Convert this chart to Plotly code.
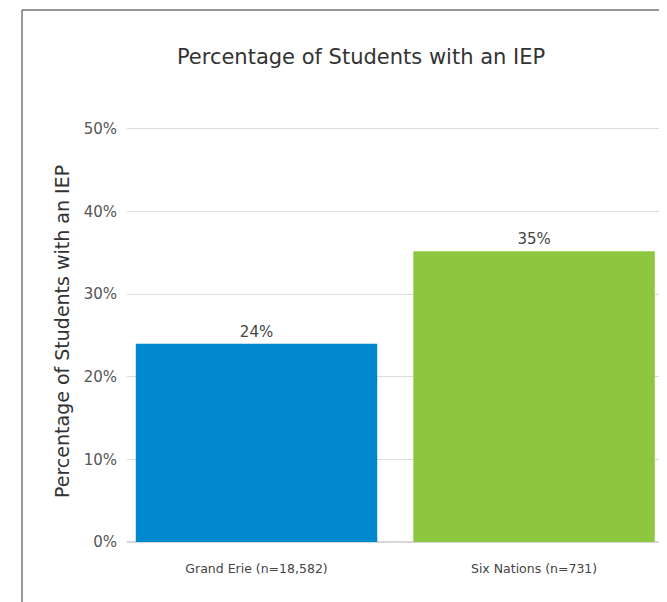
import plotly.graph_objects as go

categories = ["Grand Erie (n=18,582)", "Six Nations (n=731)"]
values = [24.0, 35.2]
labels = ["24%", "35%"]
colors = ["#0088CE", "#8DC63F"]
y_ticks = [0, 10, 20, 30, 40, 50]
y_tick_text = ["0%", "10%", "20%", "30%", "40%", "50%"]

FONT = "DejaVu Sans"
W, H = 659, 594
L, R, B = 119, 5, 60
T = 118
pw, ph = W - L - R, H - T - B

def px(x):
    return (x - L) / pw

def py(y):
    return (H - B - y) / ph

fig = go.Figure(go.Bar(
    x=[0, 1], y=values, text=labels, textposition="outside",
    marker=dict(color=colors, line=dict(width=0)),
    width=0.87,
    textfont=dict(size=15, color="#444444", family=FONT),
    cliponaxis=False,
))

fig.update_layout(
    width=W, height=H,
    margin=dict(l=L, r=R, t=T, b=B),
    paper_bgcolor="white", plot_bgcolor="white",
    font=dict(family=FONT, color="#444444"),
    showlegend=False,
    title=dict(text="Percentage of Students with an IEP",
               x=px(353), xanchor="center", y=1 - 49 / H, yanchor="middle",
               xref="paper", font=dict(size=21, color="#333333", family=FONT)),
    xaxis=dict(range=[-0.4667, 1.461], tickvals=[0, 1], ticktext=categories,
               tickfont=dict(size=12.5, color="#444444", family=FONT), showgrid=False,
               zeroline=False, showline=False, ticks="", ticklabelstandoff=17),
    yaxis=dict(range=[0, 50.35], tickvals=y_ticks, ticktext=y_tick_text,
               tickfont=dict(size=15, color="#555555", family=FONT), showgrid=True,
               gridcolor="#DDDDDD", gridwidth=1, zeroline=True,
               zerolinecolor="#D6D6D6", zerolinewidth=2, showline=False,
               ticks="", ticklabelstandoff=9),
    annotations=[
        dict(text="Percentage of Students with an IEP", textangle=-90,
             xref="paper", yref="paper", x=px(54), y=py(324),
             xanchor="center", yanchor="middle", showarrow=False,
             font=dict(size=19, color="#333333", family=FONT)),
    ],
    shapes=[
        dict(type="line", xref="paper", yref="paper",
             x0=px(14), x1=px(14), y0=py(2), y1=py(600),
             line=dict(color="#333333", width=1)),
        dict(type="line", xref="paper", yref="paper",
             x0=px(14), x1=px(670), y0=py(2), y1=py(2),
             line=dict(color="#333333", width=1)),
    ],
)

fig.write_html("out.html")
